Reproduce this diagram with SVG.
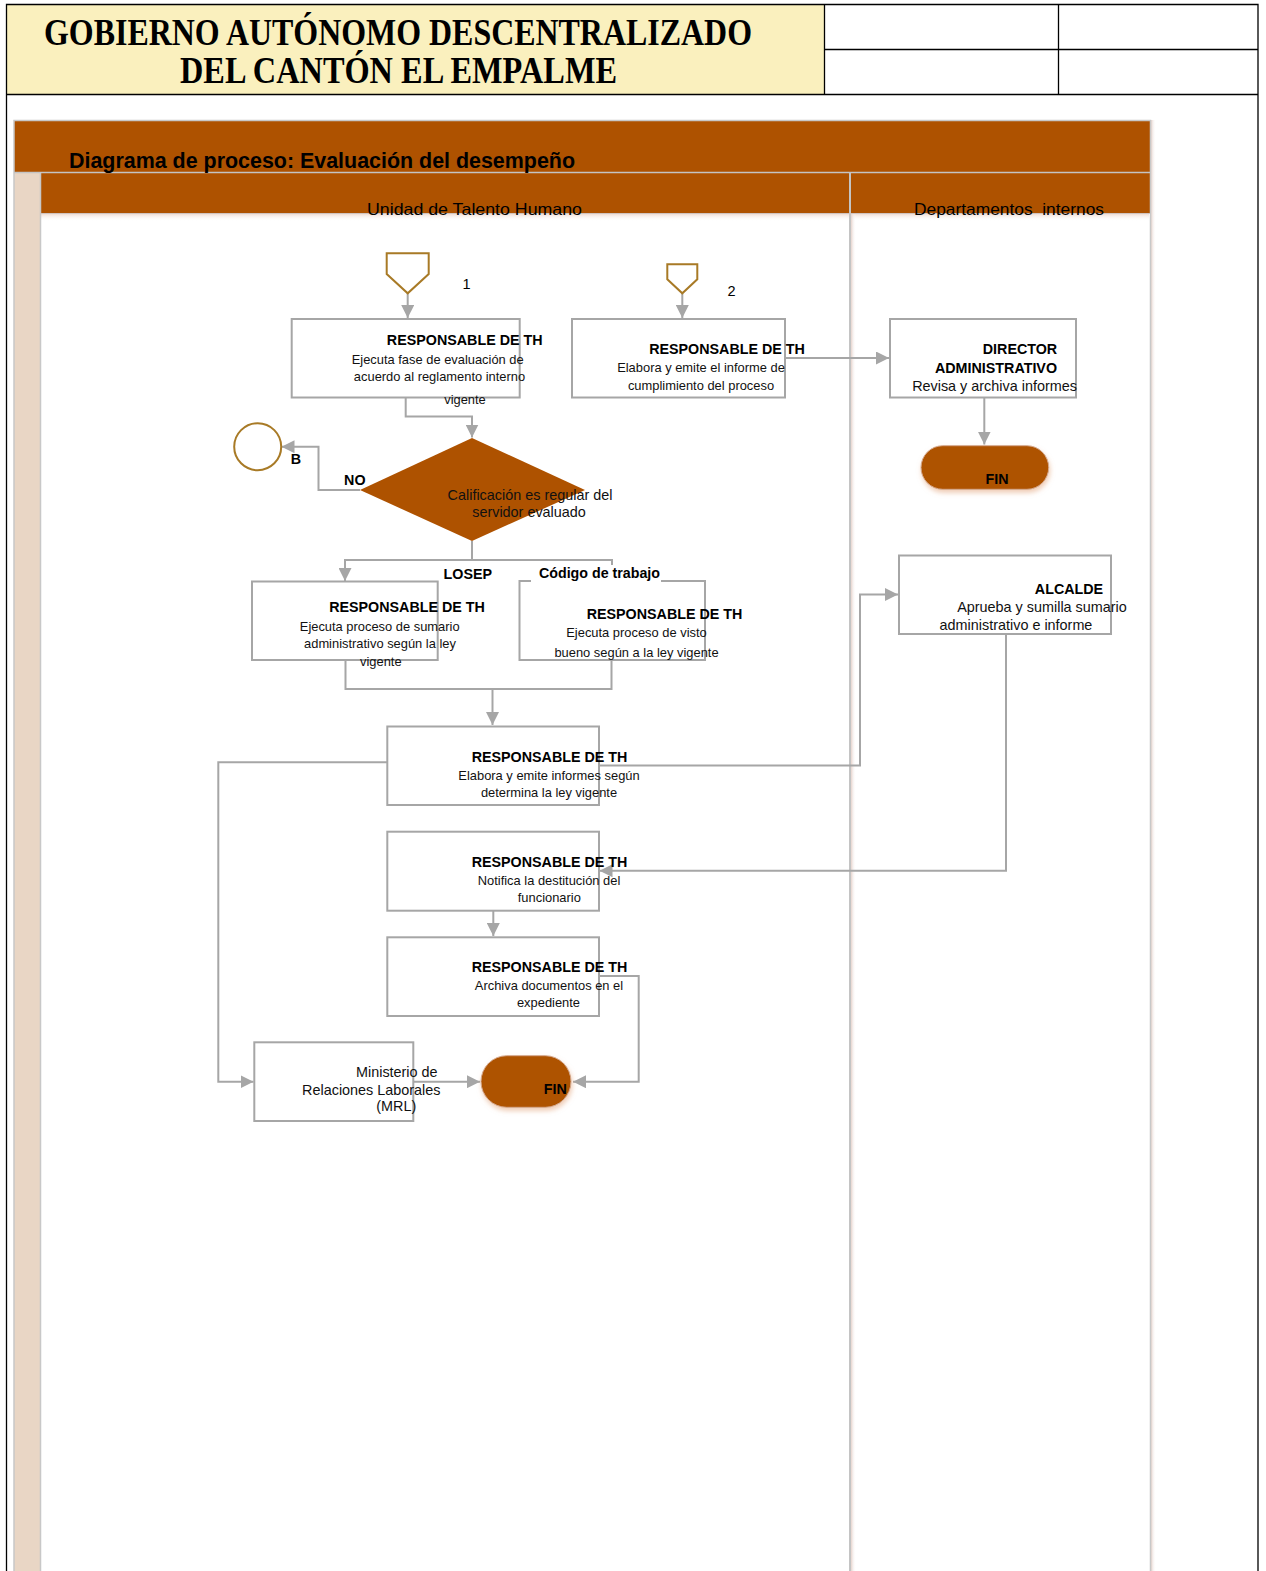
<svg xmlns="http://www.w3.org/2000/svg" width="1266" height="1571" viewBox="0 0 1266 1571">
  <defs>
    <marker id="arrow" viewBox="0 0 10 10" refX="10" refY="5" markerWidth="13" markerHeight="13" markerUnits="userSpaceOnUse" orient="auto">
      <path d="M0,0 L10,5 L0,10 z" fill="#A6A6A6"/>
    </marker>
    <filter id="soft" x="-20%" y="-30%" width="140%" height="170%">
      <feDropShadow dx="1" dy="3" stdDeviation="2.5" flood-color="#E2A27A" flood-opacity="0.55"/>
    </filter>
    <linearGradient id="laneShade" x1="0" y1="0" x2="0" y2="1">
      <stop offset="0" stop-color="#EBD3C8"/>
      <stop offset="1" stop-color="#FFFFFF" stop-opacity="0"/>
    </linearGradient>
    <linearGradient id="sepShade" x1="0" y1="0" x2="1" y2="0">
      <stop offset="0" stop-color="#E6D3CC"/>
      <stop offset="1" stop-color="#FFFFFF" stop-opacity="0"/>
    </linearGradient>
  </defs>
  <style>
    .hdr { font-family: "Liberation Serif", "Times New Roman", serif; font-weight: bold; fill: #000; }
    .t { font-family: "Liberation Sans", Arial, sans-serif; fill: #000; }
    .b { font-family: "Liberation Sans", Arial, sans-serif; font-weight: bold; font-size: 14.3px; fill: #000; }
    .s { font-family: "Liberation Sans", Arial, sans-serif; font-size: 12.9px; fill: #111; }
    .r { font-family: "Liberation Sans", Arial, sans-serif; font-size: 14.4px; fill: #111; }
    .box { fill: #FFFFFF; stroke: #A6A6A6; stroke-width: 2; }
    .conn { fill: none; stroke: #A6A6A6; stroke-width: 2; }
    .orange { fill: #AE5200; }
    .gold { fill: #FFFFFF; stroke: #A87A26; stroke-width: 2; }
  </style>

  <rect x="0" y="0" width="1266" height="1571" fill="#FFFFFF"/>

  <!-- page header -->
  <g id="page-header">
    <rect x="7" y="5" width="817" height="89" fill="#FAF0BE"/>
    <path d="M6.5,1571 V4.5 H1258 V1571" fill="none" stroke="#000" stroke-width="1.3"/>
    <line x1="6.5" y1="94.5" x2="1258" y2="94.5" stroke="#000" stroke-width="1.3"/>
    <line x1="824.5" y1="4.5" x2="824.5" y2="94.5" stroke="#000" stroke-width="1.3"/>
    <line x1="1058.5" y1="4.5" x2="1058.5" y2="94.5" stroke="#000" stroke-width="1.3"/>
    <line x1="824.5" y1="49.5" x2="1258" y2="49.5" stroke="#000" stroke-width="1.3"/>
    <text class="hdr" x="44" y="45" font-size="37" textLength="708" lengthAdjust="spacingAndGlyphs">GOBIERNO AUTÓNOMO DESCENTRALIZADO</text>
    <text class="hdr" x="180" y="83" font-size="37" textLength="437" lengthAdjust="spacingAndGlyphs">DEL CANTÓN EL EMPALME</text>
  </g>

  <!-- pool and lanes -->
  <g id="pool">
    <rect x="14" y="120" width="1136" height="52" class="orange"/>
    <rect x="14" y="172" width="26" height="1399" fill="#E9D6C5"/>
    <rect x="40" y="173" width="809" height="40" class="orange"/>
    <rect x="851" y="173" width="299" height="40" class="orange"/>
    <rect x="41" y="213" width="808" height="8" fill="url(#laneShade)"/>
    <rect x="851" y="213" width="298" height="8" fill="url(#laneShade)"/>
    <rect x="851" y="213" width="5" height="1358" fill="url(#sepShade)"/>
    <rect x="1151" y="120" width="5" height="1451" fill="url(#sepShade)"/>
    <path d="M14,1571 V120.5 H1150.5 V1571" fill="none" stroke="#C8C8C8" stroke-width="1.5"/>
    <line x1="14" y1="172.5" x2="1150" y2="172.5" stroke="#C4C4C4" stroke-width="1.5"/>
    <line x1="40.5" y1="172" x2="40.5" y2="1571" stroke="#C8C8C8" stroke-width="1.5"/>
    <line x1="850" y1="172" x2="850" y2="1571" stroke="#C4C4C4" stroke-width="2"/>
    <line x1="40" y1="213.5" x2="1150" y2="213.5" stroke="#D0C4C0" stroke-width="1"/>
    <text class="t" x="69" y="168" font-size="21.4" font-weight="bold" textLength="506" lengthAdjust="spacingAndGlyphs">Diagrama de proceso: Evaluación del desempeño</text>
    <text class="t" x="367" y="215" font-size="16.5" fill="#111" textLength="215" lengthAdjust="spacingAndGlyphs">Unidad de Talento Humano</text>
    <text class="t" x="914" y="215" font-size="16.5" fill="#111" textLength="190" lengthAdjust="spacingAndGlyphs" xml:space="preserve">Departamentos  internos</text>
  </g>

  <!-- connectors -->
  <g id="connectors">
    <path class="conn" d="M407.7,293 V318" marker-end="url(#arrow)"/>
    <path class="conn" d="M682.3,293 V318" marker-end="url(#arrow)"/>
    <path class="conn" d="M405.7,397.5 V416.5 H472 V437.5" marker-end="url(#arrow)"/>
    <path class="conn" d="M360,490 H318.5 V446.7 H281.5" marker-end="url(#arrow)"/>
    <path class="conn" d="M472,541 V560 H345 V581" marker-end="url(#arrow)"/>
    <path class="conn" d="M472,560 H612 V580" marker-end="url(#arrow)"/>
    <path class="conn" d="M345.5,660.5 V689 H611.5 V660.5"/>
    <path class="conn" d="M492.5,689 V725" marker-end="url(#arrow)"/>
    <path class="conn" d="M785,358 H889" marker-end="url(#arrow)"/>
    <path class="conn" d="M984.3,398 V444.5" marker-end="url(#arrow)"/>
    <path class="conn" d="M599,765.5 H860 V594.5 H898" marker-end="url(#arrow)"/>
    <path class="conn" d="M387,762.3 H218.3 V1081.7 H253.5" marker-end="url(#arrow)"/>
    <path class="conn" d="M1006,634 V870.7 H599.5" marker-end="url(#arrow)"/>
    <path class="conn" d="M493.3,910.7 V936" marker-end="url(#arrow)"/>
    <path class="conn" d="M599,976 H638.7 V1081.7 H573" marker-end="url(#arrow)"/>
    <path class="conn" d="M413.3,1081.7 H480" marker-end="url(#arrow)"/>
  </g>

  <!-- off-page references -->
  <g id="ref-1">
    <polygon class="gold" points="386.7,253.3 428.7,253.3 428.7,274 407.7,293.3 386.7,274"/>
    <text class="t" x="466.5" y="288.5" font-size="14.5" text-anchor="middle">1</text>
  </g>
  <g id="ref-2">
    <polygon class="gold" points="667.3,264.3 697.3,264.3 697.3,279.3 682.3,293.3 667.3,279.3"/>
    <text class="t" x="731.5" y="295.5" font-size="14.5" text-anchor="middle">2</text>
  </g>

  <g id="ejecuta-fase">
    <rect class="box" x="291.7" y="319" width="228" height="78.5"/>
    <text class="b" x="464.7" y="345" text-anchor="middle">RESPONSABLE DE TH</text>
    <text class="s" x="437.7" y="364" text-anchor="middle">Ejecuta fase de evaluación de</text>
    <text class="s" x="439.5" y="381" text-anchor="middle">acuerdo al reglamento interno</text>
    <text class="s" x="465" y="404" text-anchor="middle">vigente</text>
  </g>

  <g id="informe-cumplimiento">
    <rect class="box" x="572" y="319" width="213" height="78.5"/>
    <text class="b" x="727" y="354" text-anchor="middle">RESPONSABLE DE TH</text>
    <text class="s" x="701" y="372" text-anchor="middle">Elabora y emite el informe de</text>
    <text class="s" x="701" y="390" text-anchor="middle">cumplimiento del proceso</text>
  </g>

  <g id="director">
    <rect class="box" x="890" y="319" width="186" height="78.5"/>
    <text class="b" x="1020" y="354" text-anchor="middle">DIRECTOR</text>
    <text class="b" x="996" y="373" text-anchor="middle">ADMINISTRATIVO</text>
    <text class="r" x="994.5" y="390.5" text-anchor="middle">Revisa y archiva informes</text>
  </g>

  <g id="fin-director">
    <rect class="orange" x="921" y="445.7" width="127.7" height="43.6" rx="21.8" filter="url(#soft)" stroke="#D4A98E" stroke-width="1"/>
    <text class="b" x="997" y="484" text-anchor="middle">FIN</text>
  </g>

  <g id="conector-b">
    <circle class="gold" cx="257.7" cy="446.7" r="23.5" stroke-width="1.5"/>
    <text class="b" x="296" y="464" text-anchor="middle">B</text>
  </g>

  <g id="decision">
    <polygon class="orange" points="472,438 585,490 472,541 360,490"/>
    <text class="r" x="530" y="499.5" text-anchor="middle">Calificación es regular del</text>
    <text class="r" x="529" y="516.5" text-anchor="middle">servidor evaluado</text>
    <text class="b" x="354.8" y="484.5" text-anchor="middle">NO</text>
  </g>

  <g id="sumario">
    <rect class="box" x="252" y="581.5" width="185.7" height="78.5"/>
    <text class="b" x="407" y="612" text-anchor="middle">RESPONSABLE DE TH</text>
    <text class="s" x="379.7" y="630.5" text-anchor="middle">Ejecuta proceso de sumario</text>
    <text class="s" x="380" y="648" text-anchor="middle">administrativo según la ley</text>
    <text class="s" x="380.8" y="665.5" text-anchor="middle">vigente</text>
  </g>

  <g id="visto-bueno">
    <rect class="box" x="519.5" y="581" width="185.5" height="79"/>
    <text class="b" x="664.5" y="619" text-anchor="middle">RESPONSABLE DE TH</text>
    <text class="s" x="636.5" y="636.5" text-anchor="middle">Ejecuta proceso de visto</text>
    <text class="s" x="636.5" y="656.5" text-anchor="middle">bueno según a la ley vigente</text>
  </g>

  <g id="alcalde">
    <rect class="box" x="899" y="555.5" width="212" height="78.5"/>
    <text class="b" x="1069" y="594" text-anchor="middle">ALCALDE</text>
    <text class="r" x="1042" y="612" text-anchor="middle">Aprueba y sumilla sumario</text>
    <text class="r" x="1016" y="630" text-anchor="middle">administrativo e informe</text>
  </g>

  <g id="elabora-informes">
    <rect class="box" x="387.3" y="726.5" width="211.7" height="78.5"/>
    <text class="b" x="549.5" y="762" text-anchor="middle">RESPONSABLE DE TH</text>
    <text class="s" x="549" y="780" text-anchor="middle">Elabora y emite informes según</text>
    <text class="s" x="549" y="797" text-anchor="middle">determina la ley vigente</text>
  </g>

  <g id="notifica">
    <rect class="box" x="387.3" y="831.7" width="211.7" height="79"/>
    <text class="b" x="549.5" y="866.7" text-anchor="middle">RESPONSABLE DE TH</text>
    <text class="s" x="549" y="885" text-anchor="middle">Notifica la destitución del</text>
    <text class="s" x="549.3" y="902" text-anchor="middle">funcionario</text>
  </g>

  <g id="archiva">
    <rect class="box" x="387.3" y="937.3" width="211.7" height="78.7"/>
    <text class="b" x="549.5" y="971.7" text-anchor="middle">RESPONSABLE DE TH</text>
    <text class="s" x="549" y="990" text-anchor="middle">Archiva documentos en el</text>
    <text class="s" x="548.5" y="1006.5" text-anchor="middle">expediente</text>
  </g>

  <g id="ministerio">
    <rect class="box" x="254.3" y="1042.3" width="159" height="78.7"/>
    <text class="r" x="396.8" y="1076.7" text-anchor="middle">Ministerio de</text>
    <text class="r" x="371.3" y="1094.5" text-anchor="middle">Relaciones Laborales</text>
    <text class="r" x="396.3" y="1110.5" text-anchor="middle">(MRL)</text>
  </g>

  <g id="fin-talento">
    <rect class="orange" x="481" y="1055.7" width="90" height="51.6" rx="25.8" filter="url(#soft)" stroke="#D4A98E" stroke-width="1"/>
    <text class="b" x="555.3" y="1094" text-anchor="middle">FIN</text>
  </g>

  <!-- branch labels -->
  <g id="labels">
    <text class="b" x="467.8" y="579" text-anchor="middle">LOSEP</text>
    <rect x="531" y="565" width="130" height="18" fill="#FFFFFF"/>
    <text class="b" x="599.5" y="578" text-anchor="middle" textLength="121" lengthAdjust="spacingAndGlyphs">Código de trabajo</text>
  </g>
</svg>
